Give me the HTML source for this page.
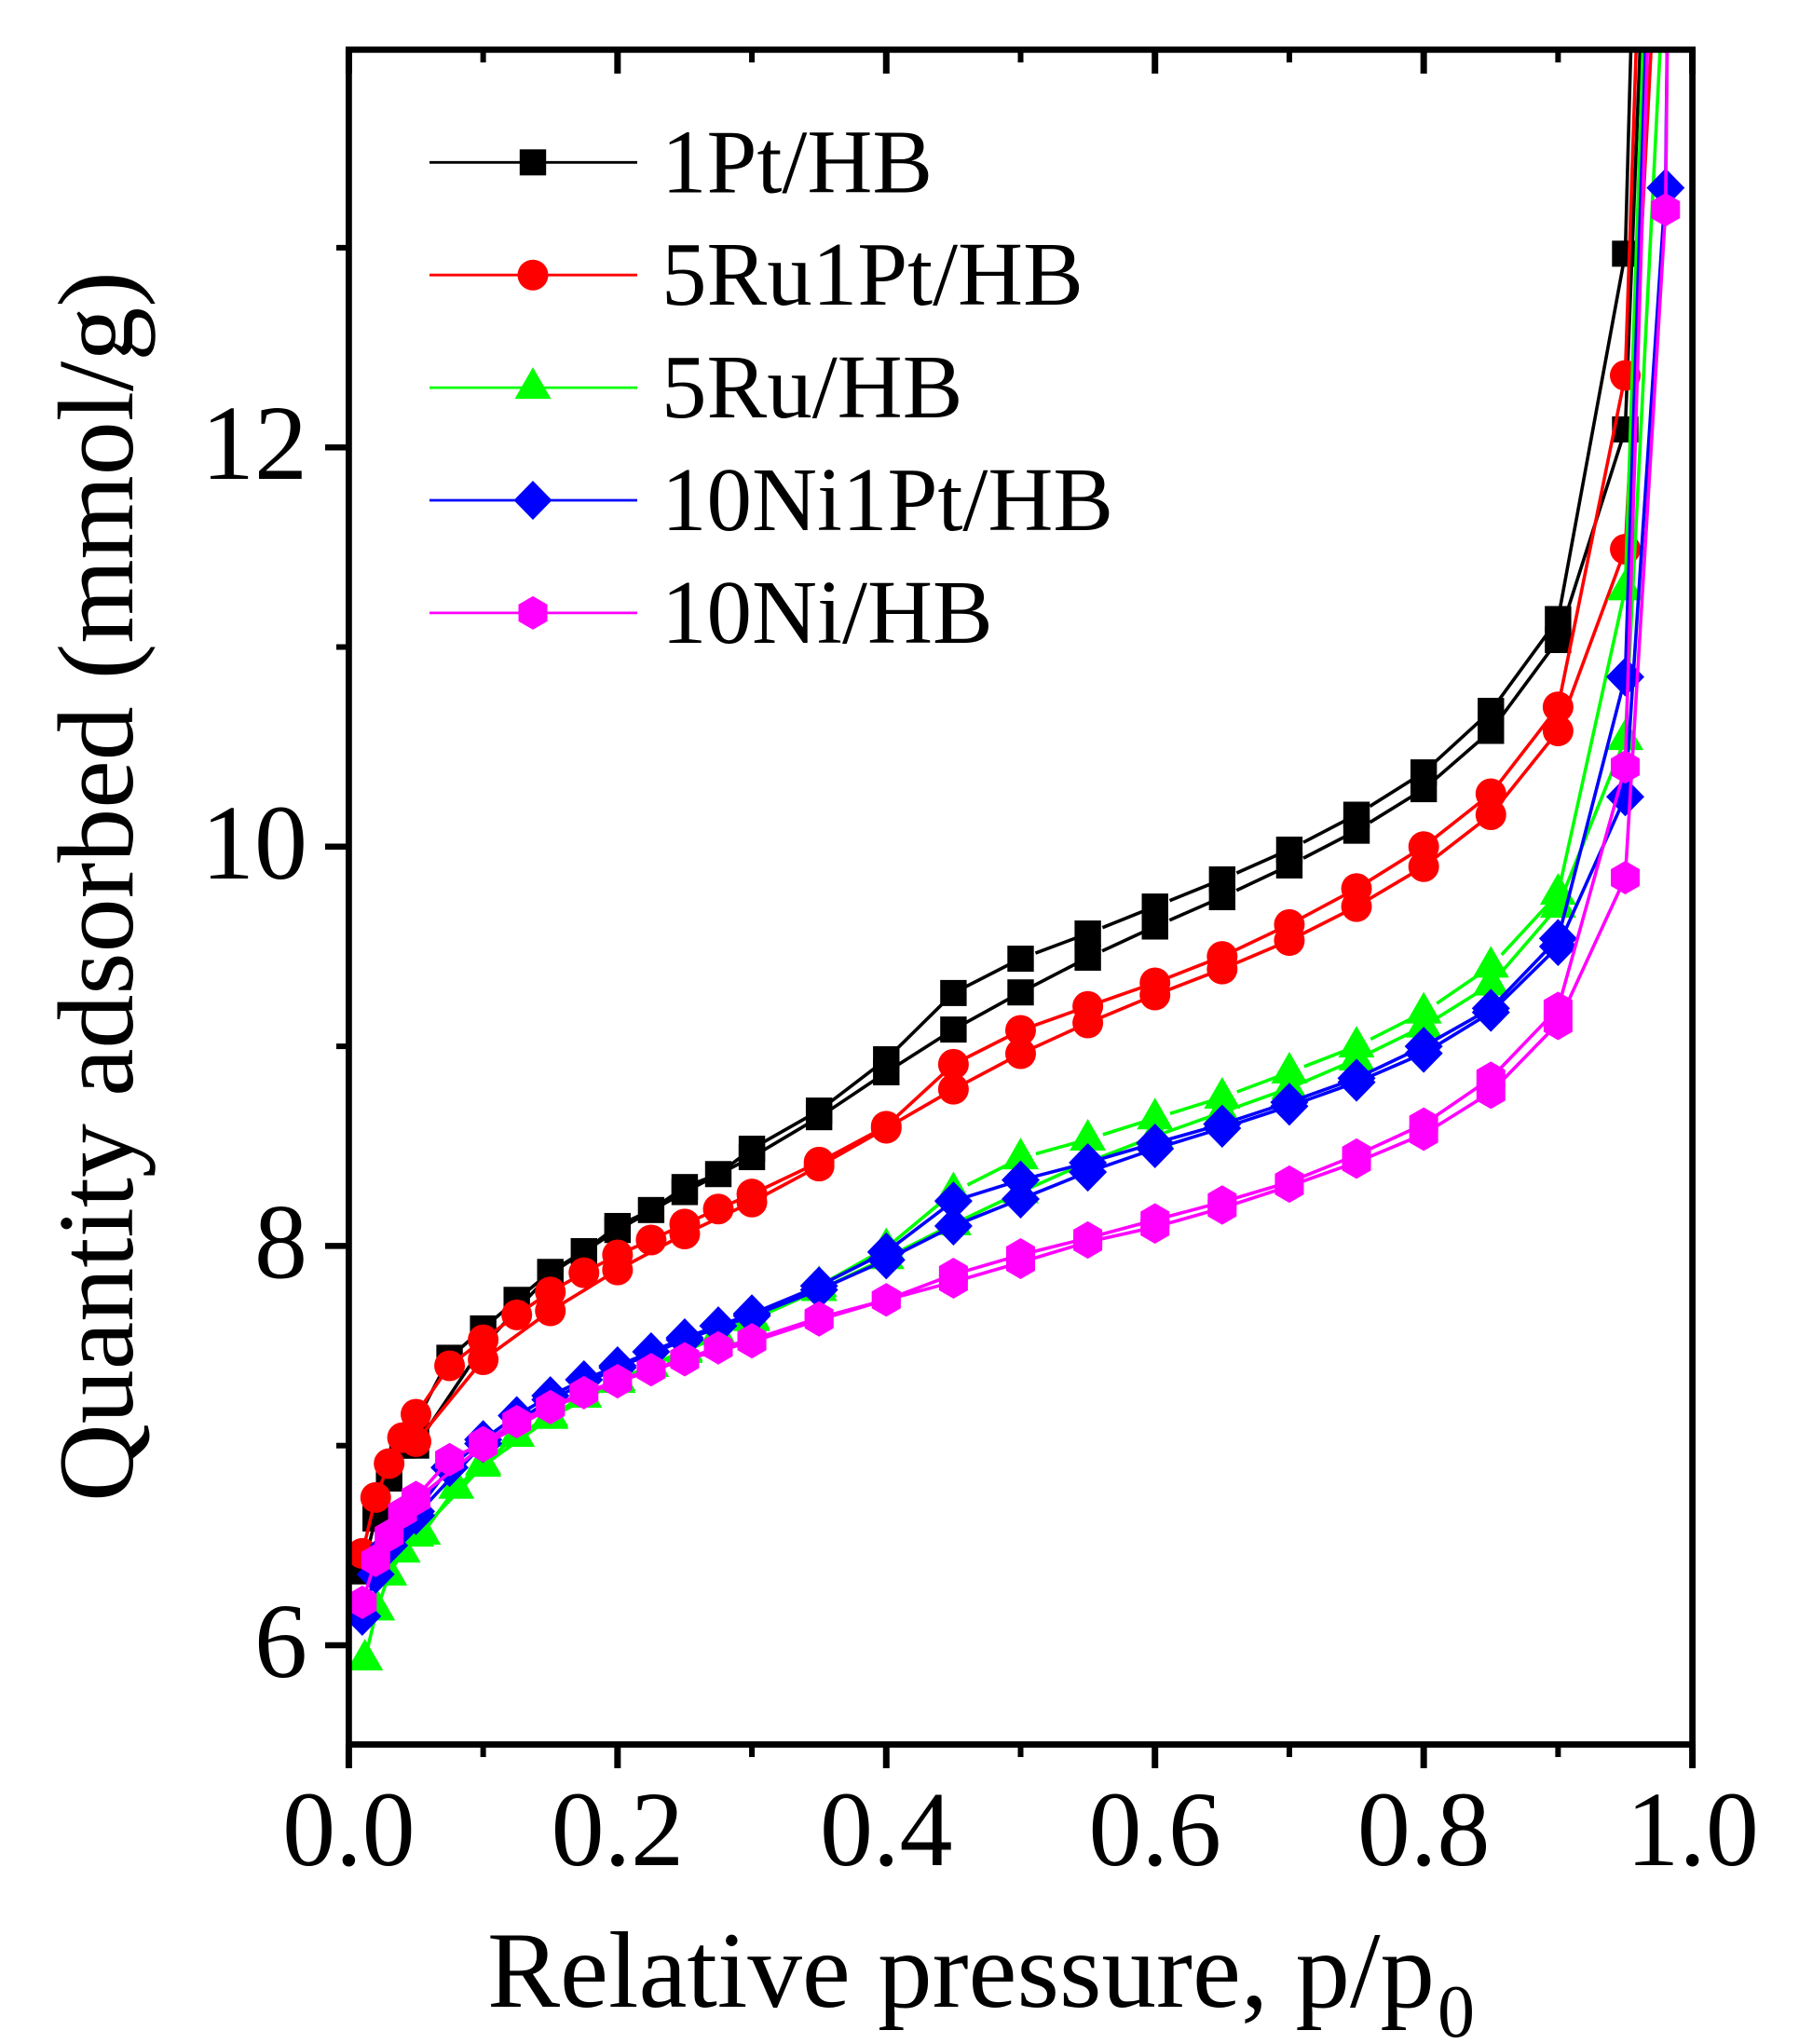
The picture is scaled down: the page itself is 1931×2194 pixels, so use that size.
<!DOCTYPE html>
<html>
<head>
<meta charset="utf-8">
<title>Nitrogen adsorption isotherms</title>
<style>
html,body{margin:0;padding:0;background:#fff;}
svg{display:block;}
text{font-family:"Liberation Serif",serif;fill:#000;}
</style>
</head>
<body>
<svg id="chart" xmlns="http://www.w3.org/2000/svg" width="1931" height="2194" viewBox="0 0 1931 2194">
  <rect x="0" y="0" width="1931" height="2194" fill="#fff"/>
  <defs><clipPath id="plot-clip"><rect x="374" y="53" width="1443" height="1820"/></clipPath></defs>
  <g id="series-layer" clip-path="url(#plot-clip)"></g>
  <g id="axis-layer"></g>
  <text x="523" y="2154" font-size="117">Relative pressure, p/p<tspan font-size="80" dy="32" dx="3">0</tspan></text>
  <text transform="translate(142,1612) rotate(-90)" font-size="116">Quantity adsorbed (mmol/g)</text>
  <g id="legend-layer"></g>
</svg>
<script>
const xMajorTicks = [0, 0.2, 0.4, 0.6, 0.8, 1.0];
const xMinorTicks = [0.1, 0.3, 0.5, 0.7, 0.9];
const xTickLabels = ["0.0", "0.2", "0.4", "0.6", "0.8", "1.0"];
const yMajorTicks = [6, 8, 10, 12];
const yMinorTicks = [7, 9, 11, 13];
const yTickLabels = ["6", "8", "10", "12"];

const pUpper = [0.01,0.02,0.03,0.04,0.05,0.075,0.1,0.125,0.15,0.175,0.2,0.225,0.25,0.275,0.3,0.35,0.4,0.45,0.5,0.55,0.6,0.65,0.7,0.75,0.8,0.85,0.9,0.95,0.99];
const pUpperGreen = [0.012,0.021,0.03,0.04,0.055,0.08,0.1,0.125,0.15,0.175,0.2,0.225,0.25,0.275,0.3,0.35,0.4,0.45,0.5,0.55,0.6,0.65,0.7,0.75,0.8,0.85,0.9,0.95,0.99];
const pLower = [0.05,0.1,0.15,0.2,0.25,0.3,0.35,0.4,0.45,0.5,0.55,0.6,0.65,0.7,0.75,0.8,0.85,0.9,0.95,0.99];
const pLowerLong = [0.05,0.1,0.15,0.2,0.25,0.3,0.35,0.4,0.45,0.5,0.55,0.6,0.65,0.7,0.75,0.8,0.85,0.9,0.95,0.98,0.99];

const blackUpper = [6.37,6.635,6.835,7.0,7.12,7.44,7.587,7.73,7.87,7.974,8.10,8.18,8.295,8.36,8.487,8.678,8.935,9.267,9.439,9.565,9.70,9.836,9.985,10.16,10.372,10.68,11.14,12.97,22.8];
const blackLower = [7.0,7.5,7.86,8.08,8.27,8.445,8.645,8.87,9.084,9.27,9.444,9.60,9.747,9.906,10.08,10.288,10.58,11.035,12.09,19];
const redUpper = [6.46,6.74,6.91,7.04,7.157,7.40,7.53,7.655,7.77,7.866,7.955,8.03,8.11,8.185,8.26,8.42,8.60,8.91,9.08,9.20,9.318,9.45,9.61,9.79,10.0,10.265,10.70,12.36,20.4];
const redLower = [7.02,7.43,7.675,7.88,8.06,8.22,8.40,8.59,8.785,8.963,9.117,9.257,9.387,9.53,9.70,9.90,10.16,10.58,11.49,16.7];
const greenUpper = [5.93,6.18,6.355,6.47,6.56,6.79,6.91,7.05,7.15,7.246,7.33,7.40,7.48,7.56,7.64,7.80,7.99,8.27,8.44,8.534,8.64,8.744,8.87,9.0,9.17,9.40,9.765,11.29,19.5];
const greenLower = [6.55,6.90,7.14,7.32,7.47,7.63,7.78,7.94,8.11,8.27,8.42,8.55,8.67,8.79,8.935,9.10,9.31,9.70,10.54,15.86];
const blueUpper = [6.145,6.355,6.5,6.6,6.67,6.89,7.03,7.15,7.25,7.33,7.40,7.47,7.54,7.60,7.66,7.80,7.97,8.225,8.33,8.417,8.515,8.61,8.72,8.84,9.0,9.19,9.54,10.85,19.2];
const blueLower = [6.65,7.01,7.23,7.39,7.53,7.65,7.78,7.93,8.10,8.235,8.37,8.487,8.59,8.70,8.82,8.965,9.17,9.50,10.25,13.3,19.4];
const magentaUpper = [6.215,6.425,6.55,6.665,6.74,6.93,7.015,7.12,7.195,7.265,7.325,7.38,7.435,7.49,7.53,7.64,7.73,7.857,7.955,8.04,8.13,8.22,8.32,8.455,8.61,8.84,9.19,10.40,19.1];
const magentaLower = [6.73,7.0,7.19,7.32,7.43,7.52,7.63,7.73,7.82,7.918,8.02,8.095,8.19,8.30,8.42,8.56,8.77,9.115,9.845,13.19,19.6];

const seriesNames = ["1Pt/HB", "5Ru1Pt/HB", "5Ru/HB", "10Ni1Pt/HB", "10Ni/HB"];

const NS = "http://www.w3.org/2000/svg";
const X0 = 374.4, X1 = 1816.6;
const Y_AT_6 = 1766, Y_PER_UNIT = 214.3;
function xScale(p) { return X0 + (X1 - X0) * p; }
function yScale(v) { return Y_AT_6 - Y_PER_UNIT * (v - 6); }

function make(tag, attrs, parent) {
  const el = document.createElementNS(NS, tag);
  for (const k in attrs) el.setAttribute(k, attrs[k]);
  parent.appendChild(el);
  return el;
}

function marker(kind, cx, cy, color, parent) {
  let el;
  if (kind === "square") {
    el = make("rect", {x: cx - 14.2, y: cy - 14, width: 28.4, height: 28, fill: color}, parent);
  } else if (kind === "circle") {
    el = make("circle", {cx: cx, cy: cy, r: 16.5, fill: color}, parent);
  } else if (kind === "triangle") {
    el = make("polygon", {points: [[cx, cy - 22], [cx + 19.5, cy + 12], [cx - 19.5, cy + 12]].join(" "), fill: color}, parent);
  } else if (kind === "diamond") {
    el = make("polygon", {points: [[cx, cy - 21], [cx + 20.5, cy], [cx, cy + 21], [cx - 20.5, cy]].join(" "), fill: color}, parent);
  } else {
    el = make("polygon", {points: [[cx, cy - 18], [cx + 15.5, cy - 9], [cx + 15.5, cy + 9], [cx, cy + 18], [cx - 15.5, cy + 9], [cx - 15.5, cy - 9]].join(" "), fill: color}, parent);
  }
  return el;
}

function branchPath(ps, vs, gapFrom, gapTo) {
  let d = "";
  for (let i = 0; i < ps.length; i++) {
    const x = xScale(ps[i]), y = yScale(vs[i]);
    if (i === 0) { d += "M" + x + " " + y; continue; }
    const pPrev = ps[i - 1];
    if (pPrev >= gapFrom && pPrev < gapTo) {
      const xp = xScale(pPrev), yp = yScale(vs[i - 1]);
      const len = Math.hypot(x - xp, y - yp);
      const g = 17 / len;
      d += "M" + (xp + (x - xp) * g) + " " + (yp + (y - yp) * g) + "L" + x + " " + y;
    } else {
      d += "L" + x + " " + y;
    }
  }
  return d;
}

function drawSeries(name, kind, color, pU, vU, pL, vL, gapU, gapL) {
  const layer = document.getElementById("series-layer");
  const g = make("g", {}, layer);
  
  
  const lower = make("path", {d: branchPath(pL, vL, gapL[0], gapL[1]), fill: "none", stroke: color, "stroke-width": 3.6}, g);
  
  
  const upper = make("path", {d: branchPath(pU, vU, gapU[0], gapU[1]), fill: "none", stroke: color, "stroke-width": 3.6}, g);
  
  
  for (let i = 0; i < pL.length; i++) {
    const m = marker(kind, xScale(pL[i]), yScale(vL[i]), color, g);
    
    
  }
  for (let i = 0; i < pU.length; i++) {
    const m = marker(kind, xScale(pU[i]), yScale(vU[i]), color, g);
    
    
  }
}

const noGap = [2, 2];
drawSeries("1pt-hb", "square", "#000000", pUpper, blackUpper, pLower, blackLower, [0.5, 0.76], [0.55, 0.76]);
drawSeries("5ru1pt-hb", "circle", "#ff0000", pUpper, redUpper, pLower, redLower, noGap, noGap);
drawSeries("5ru-hb", "triangle", "#00ff00", pUpperGreen, greenUpper, pLower, greenLower, [0.45, 0.86], noGap);
drawSeries("10ni1pt-hb", "diamond", "#0000ff", pUpper, blueUpper, pLowerLong, blueLower, noGap, noGap);
drawSeries("10ni-hb", "hexagon", "#ff00ff", pUpper, magentaUpper, pLowerLong, magentaLower, noGap, noGap);

/* axes */
const axisLayer = document.getElementById("axis-layer");
const frame = make("rect", {x: X0, y: 53.3, width: X1 - X0, height: 1819.2, fill: "none", stroke: "#000", "stroke-width": 6.8}, axisLayer);



xMajorTicks.forEach(function (t, i) {
  const x = xScale(t);
  const b = make("line", {x1: x, x2: x, y1: 1872, y2: 1898, stroke: "#000", "stroke-width": 7}, axisLayer);
  
  
  const top = make("line", {x1: x, x2: x, y1: 53, y2: 79, stroke: "#000", "stroke-width": 7}, axisLayer);
  
  
  const lab = make("text", {x: x, y: 2002, "font-size": 114, "text-anchor": "middle"}, axisLayer);
  lab.textContent = xTickLabels[i];
  
  
});
xMinorTicks.forEach(function (t) {
  const x = xScale(t);
  const b = make("line", {x1: x, x2: x, y1: 1872, y2: 1886, stroke: "#000", "stroke-width": 6}, axisLayer);
  
  
  const top = make("line", {x1: x, x2: x, y1: 53, y2: 67, stroke: "#000", "stroke-width": 6}, axisLayer);
  
  
});
yMajorTicks.forEach(function (t, i) {
  const y = yScale(t);
  const l = make("line", {x1: 349, x2: X0, y1: y, y2: y, stroke: "#000", "stroke-width": 6.5}, axisLayer);
  
  
  const lab = make("text", {x: 330, y: y + 34, "font-size": 114, "text-anchor": "end"}, axisLayer);
  lab.textContent = yTickLabels[i];
  
  
});
yMinorTicks.forEach(function (t) {
  const y = yScale(t);
  const l = make("line", {x1: 361, x2: X0, y1: y, y2: y, stroke: "#000", "stroke-width": 6}, axisLayer);
  
  
});

/* legend */
const legendLayer = document.getElementById("legend-layer");
const legendKinds = ["square", "circle", "triangle", "diamond", "hexagon"];
const legendColors = ["#000000", "#ff0000", "#00ff00", "#0000ff", "#ff00ff"];
seriesNames.forEach(function (name, i) {
  const y = 174.3 + 120.9 * i;
  const g = make("g", {}, legendLayer);
  
  
  const ln = make("line", {x1: 461, x2: 684, y1: y, y2: y, stroke: legendColors[i], "stroke-width": 2.8}, g);
  
  
  const m = marker(legendKinds[i], 572, y, legendColors[i], g);
  
  
  const t = make("text", {x: 710, y: y + 32, "font-size": 97}, g);
  t.textContent = name;
  
  
});
</script>
</body>
</html>
